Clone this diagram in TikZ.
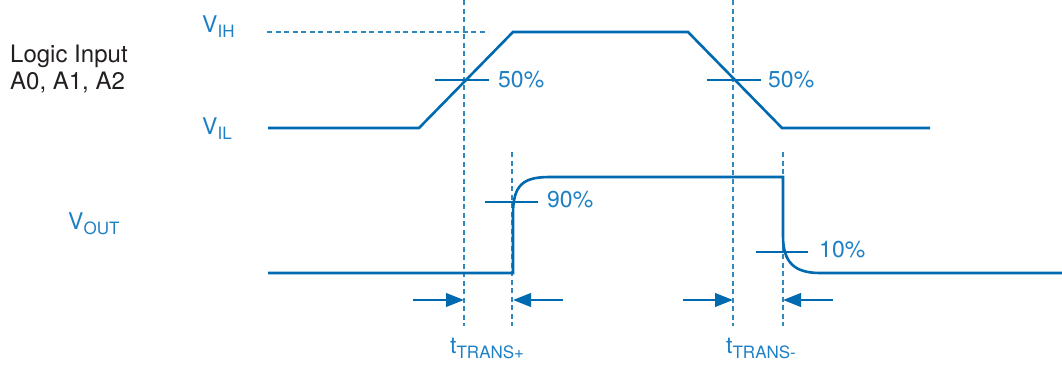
\documentclass[tikz,border=0pt]{standalone}
\usepackage{fontspec}
\setmainfont{TeX Gyre Heros}
\usetikzlibrary{arrows.meta}
\definecolor{sig}{RGB}{0,106,176}
\definecolor{txtblue}{RGB}{30,128,196}
\definecolor{txtdark}{RGB}{35,31,32}
\tikzset{
  sigline/.style={draw=sig,line width=2.6pt,line join=miter},
  tickline/.style={draw=sig,line width=2.6pt},
  guide/.style={draw=sig!80!white,line width=1.2pt,dash pattern=on 5pt off 3.5pt},
  arr/.style={draw=sig,line width=2.6pt,-{Triangle[length=18pt,width=13.5pt]}},
  lbl/.style={inner sep=0pt,anchor=base west,text=txtblue,font=\fontsize{23}{27}\selectfont},
  dark/.style={inner sep=0pt,anchor=base west,text=txtdark,font=\fontsize{24}{27}\selectfont},
}
\newcommand{\lowsub}[1]{\raisebox{-5pt}{\fontsize{17}{20}\selectfont #1}}
\begin{document}
\begin{tikzpicture}[x=1pt,y=-1pt]
\useasboundingbox (0,0) rectangle (1062,364);
% guides
\coordinate (g1t) at (464,0);   \coordinate (g1b) at (464,326);
\coordinate (g2t) at (512,152); \coordinate (g2b) at (512,326);
\coordinate (g3t) at (733,0);   \coordinate (g3b) at (733,326);
\coordinate (g4t) at (783,152); \coordinate (g4b) at (783,326);
\coordinate (vihs) at (267,32); \coordinate (vihe) at (488,32);
\draw[guide] (g1t) -- (g1b);
\draw[guide] (g2t) -- (g2b);
\draw[guide] (g3t) -- (g3b);
\draw[guide] (g4t) -- (g4b);
\draw[guide] (vihs) -- (vihe);
% input signal
\coordinate (i0) at (268,128);
\coordinate (i1) at (419,128);
\coordinate (i2) at (513,32);
\coordinate (i3) at (688,32);
\coordinate (i4) at (782,128);
\coordinate (i5) at (930,128);
\draw[sigline] (i0) -- (i1) -- (i2) -- (i3) -- (i4) -- (i5);
% output signal
\coordinate (o0) at (268,273);
\coordinate (o1) at (513,273);
\coordinate (o2) at (513,214);
\coordinate (o3) at (550,177);
\coordinate (o4) at (783,177);
\coordinate (o5) at (783,236);
\coordinate (o6) at (820,273);
\coordinate (o7) at (1062,273);
\draw[sigline] (o0) -- (o1) -- (o2) .. controls (513,184) and (524,177) .. (o3) -- (o4) -- (o5) .. controls (783,262) and (794,273) .. (o6) -- (o7);
% ticks
\coordinate (t1a) at (435,80); \coordinate (t1b) at (489,80);
\coordinate (t2a) at (707,80); \coordinate (t2b) at (761,80);
\coordinate (t3a) at (485,202); \coordinate (t3b) at (538,202);
\coordinate (t4a) at (756,252); \coordinate (t4b) at (808,252);
\draw[tickline] (t1a) -- (t1b);
\draw[tickline] (t2a) -- (t2b);
\draw[tickline] (t3a) -- (t3b);
\draw[tickline] (t4a) -- (t4b);
% arrows
\coordinate (a1s) at (413,300); \coordinate (a1e) at (464,300);
\coordinate (a2s) at (563,300); \coordinate (a2e) at (513,300);
\coordinate (a3s) at (683,300); \coordinate (a3e) at (733,300);
\coordinate (a4s) at (833,300); \coordinate (a4e) at (783,300);
\draw[arr] (a1s) -- (a1e);
\draw[arr] (a2s) -- (a2e);
\draw[arr] (a3s) -- (a3e);
\draw[arr] (a4s) -- (a4e);
% labels
\node[dark] (li1) at (10,62) {Logic Input};
\node[dark] (li2) at (10,89) {A0, A1, A2};
\node[lbl] (vih) at (202,32) {V\lowsub{IH}};
\node[lbl] (vil) at (202,134) {V\lowsub{IL}};
\node[lbl] (vout) at (68,229) {V\lowsub{OUT}};
\node[lbl] (p50a) at (498,87) {50\%};
\node[lbl] (p50b) at (768,87) {50\%};
\node[lbl] (p90) at (547,207) {90\%};
\node[lbl] (p10) at (819,257) {10\%};
\node[lbl] (ttp) at (450,353) {t\lowsub{TRANS+}};
\node[lbl] (ttm) at (726,353) {t\lowsub{TRANS-}};
\end{tikzpicture}
\end{document}
